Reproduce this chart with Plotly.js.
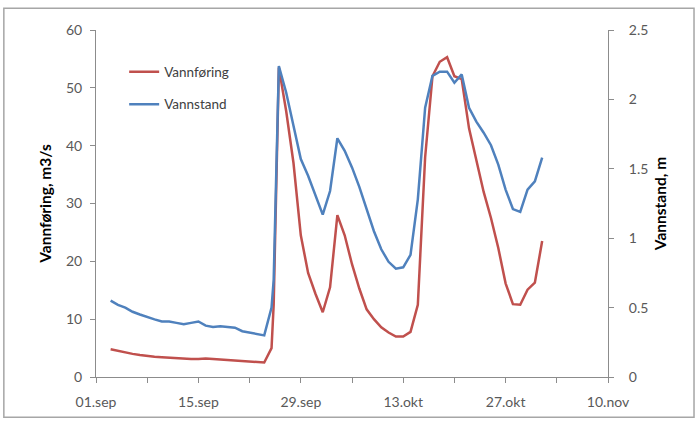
<!DOCTYPE html>
<html>
<head>
<meta charset="utf-8">
<script src="https://cdn.plot.ly/plotly-3.0.1.min.js"></script>
<style>html,body{margin:0;padding:0;background:#fff;}#chart{width:696px;height:421px;}</style>
</head>
<body>
<div id="chart"></div>
<script>
const dates = [
  '2011-09-03','2011-09-04','2011-09-05','2011-09-06','2011-09-07','2011-09-08','2011-09-09','2011-09-10',
  '2011-09-11','2011-09-12','2011-09-13','2011-09-14','2011-09-15','2011-09-16','2011-09-17','2011-09-18',
  '2011-09-19','2011-09-20','2011-09-21','2011-09-22','2011-09-23','2011-09-24','2011-09-25','2011-09-25 07:00',
  '2011-09-26','2011-09-27','2011-09-28','2011-09-29','2011-09-30','2011-10-01','2011-10-02','2011-10-03',
  '2011-10-04','2011-10-05','2011-10-06','2011-10-07','2011-10-08','2011-10-09','2011-10-10','2011-10-11',
  '2011-10-12','2011-10-13','2011-10-14','2011-10-15','2011-10-16','2011-10-17','2011-10-18','2011-10-19',
  '2011-10-20','2011-10-21','2011-10-22','2011-10-23','2011-10-24','2011-10-25','2011-10-26','2011-10-27',
  '2011-10-28','2011-10-29','2011-10-30','2011-10-31','2011-11-01'
];
const vannforing = [
  4.8,4.5,4.2,4.0,3.8,3.6,3.5,3.4,
  3.3,3.3,3.2,3.1,3.1,3.2,3.1,3.0,
  3.0,2.9,2.8,2.6,2.5,2.5,5.0,12.5,
  53.5,46,37,24.5,18,14.4,11.2,15.5,
  28,24.5,19.5,15.3,11.7,10.0,8.6,7.7,
  7.0,7.0,7.8,12.5,38,52,54.5,55.3,
  52.0,51.5,43,37.5,32,27.5,22.3,16.2,
  12.6,12.5,15.1,16.3,23.5
];
const vannstand = [
  0.55,0.52,0.50,0.47,0.45,0.43,0.415,0.40,
  0.40,0.39,0.38,0.39,0.40,0.37,0.36,0.365,
  0.36,0.355,0.33,0.32,0.315,0.30,0.50,0.70,
  2.24,2.05,1.81,1.57,1.45,1.31,1.17,1.34,
  1.72,1.63,1.51,1.37,1.21,1.05,0.92,0.83,
  0.78,0.79,0.88,1.28,1.94,2.17,2.20,2.20,
  2.12,2.18,1.94,1.84,1.76,1.67,1.53,1.35,
  1.21,1.19,1.35,1.41,1.58
];
const xTickVals = ['2011-09-01','2011-09-15','2011-09-29','2011-10-13','2011-10-27','2011-11-10'];
const xTickText = ['01.sep','15.sep','29.sep','13.okt','27.okt','10.nov'];
const xMinorVals = ['2011-09-08','2011-09-22','2011-10-06','2011-10-20','2011-11-03'];

const FONT = 'Lato, "Open Sans", sans-serif';
const axisCol = '#8c8c8c';
const tickFont = {family: FONT, size: 14, color: '#595959'};
const titleFont = {family: FONT, size: 15.5, color: '#000', weight: 'bold'};

const traces = [
  {x: dates, y: vannforing, name: 'Vannføring', type: 'scatter', mode: 'lines',
   line: {color: '#C0504D', width: 2.5}, legendgroup: 'a', yaxis: 'y'},
  {x: dates, y: vannstand, name: 'Vannstand', type: 'scatter', mode: 'lines',
   line: {color: '#4F81BD', width: 2.5}, legendgroup: 'b', yaxis: 'y2'}
];

const layout = {
  width: 696, height: 421,
  margin: {l: 96, r: 88, t: 30, b: 44},
  paper_bgcolor: '#fff', plot_bgcolor: '#fff',
  font: {family: FONT, color: '#595959'},
  showlegend: true,
  legend: {x: 0.055, y: 0.924, xanchor: 'left', yanchor: 'top', bgcolor: 'rgba(0,0,0,0)',
           font: {family: FONT, size: 13.5, color: '#404040'}, traceorder: 'grouped', tracegroupgap: 12},
  xaxis: {
    type: 'date', range: ['2011-09-01', '2011-11-10'],
    tickmode: 'array', tickvals: xTickVals, ticktext: xTickText,
    ticks: 'outside', ticklen: 5, tickcolor: axisCol, ticklabelstandoff: 7,
    minor: {tickmode: 'array', tickvals: xMinorVals, ticks: 'outside', ticklen: 5, tickcolor: axisCol},
    showline: true, linecolor: axisCol, linewidth: 1, showgrid: false, zeroline: false,
    tickfont: tickFont, fixedrange: true
  },
  yaxis: {
    range: [0, 60], dtick: 10, tick0: 0,
    ticks: 'outside', ticklen: 5, tickcolor: axisCol, ticklabelstandoff: 5,
    showline: true, linecolor: axisCol, linewidth: 1, showgrid: false, zeroline: false,
    tickfont: tickFont,
    title: {text: 'Vannføring, m3/s', font: titleFont, standoff: 10}
  },
  yaxis2: {
    range: [0, 2.5], dtick: 0.5, tick0: 0, overlaying: 'y', side: 'right',
    ticks: 'outside', ticklen: 5, tickcolor: axisCol, ticklabelstandoff: 12,
    showline: true, linecolor: axisCol, linewidth: 1, showgrid: false, zeroline: false,
    tickfont: tickFont,
    title: {text: 'Vannstand, m', font: titleFont, standoff: 7}
  },
  shapes: [
    {type: 'rect', xref: 'paper', yref: 'paper', x0: -0.18, x1: 1.168, y0: -0.116, y1: 1.063,
     line: {color: '#a6a6a6', width: 1.5}, fillcolor: 'rgba(0,0,0,0)', layer: 'below'}
  ]
};

Plotly.newPlot('chart', traces, layout, {displayModeBar: false, staticPlot: true});
</script>
</body>
</html>
